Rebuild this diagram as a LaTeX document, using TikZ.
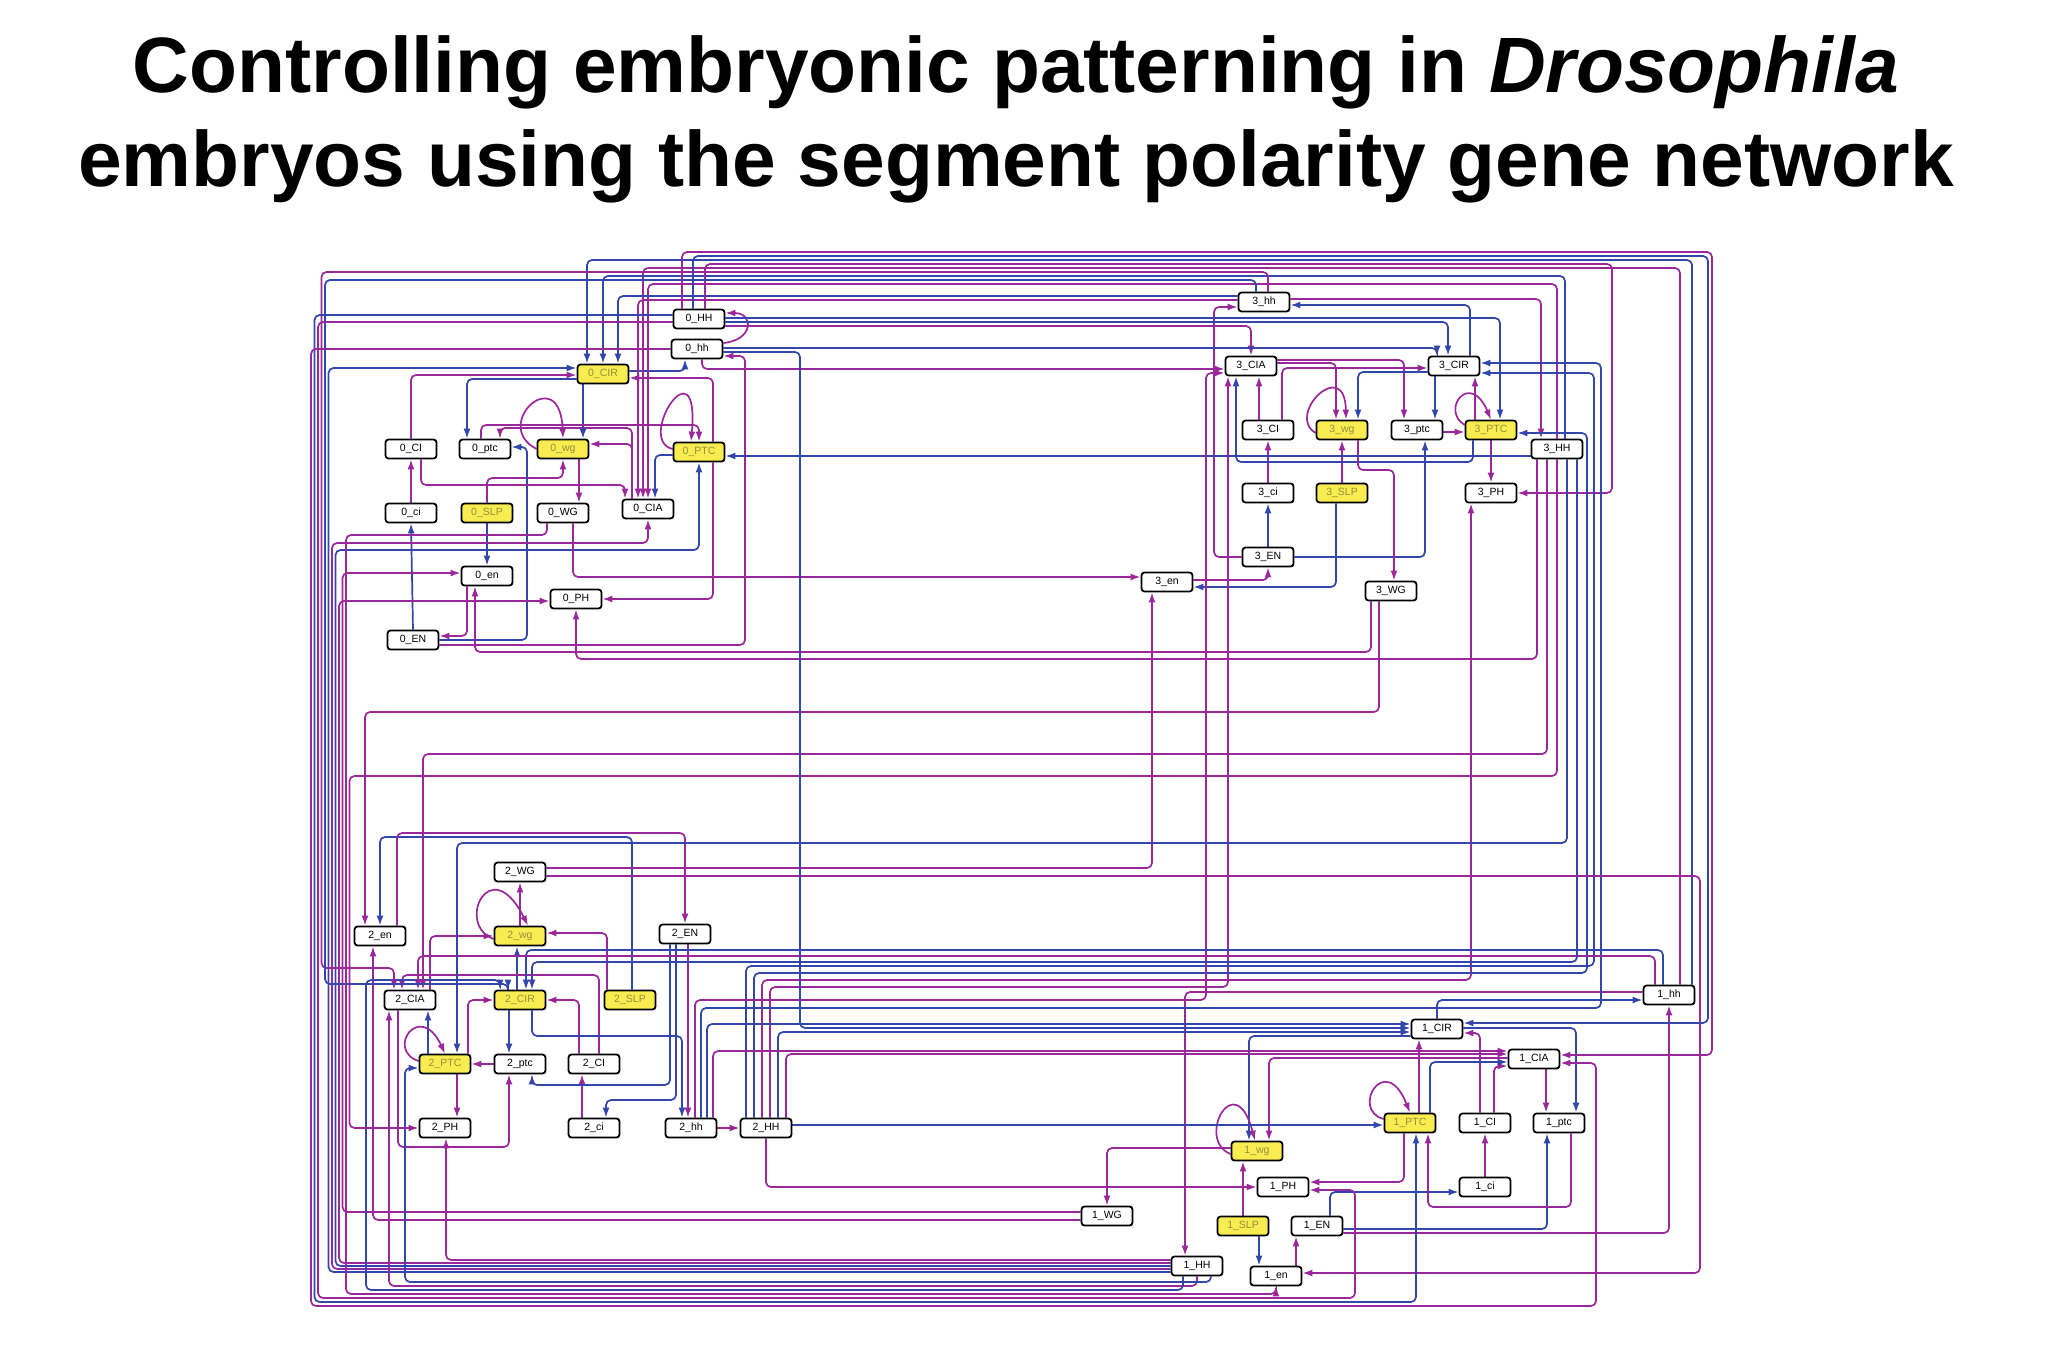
\documentclass[tikz,border=0pt]{standalone}
\usepackage{fontspec}
\setmainfont{Liberation Sans}
\usetikzlibrary{arrows.meta}
\pgfdeclarelayer{bg}
\pgfsetlayers{bg,main}
\definecolor{pur}{RGB}{155,40,155}
\definecolor{blu}{RGB}{50,70,172}
\definecolor{yel}{RGB}{248,236,80}
\definecolor{ytx}{RGB}{150,142,60}
\begin{document}
\begin{tikzpicture}[x=1pt,y=-1pt,
  gn/.style={draw=black,line width=1.8pt,rounded corners=3pt,fill=white,minimum width=51pt,minimum height=19pt,inner sep=0pt,font=\fontsize{10.5}{12}\selectfont},
  gy/.style={gn,fill=yel,text=ytx},
  pa/.style={pur,line width=1.7pt,rounded corners=5pt,-{Latex[length=10pt,width=7pt]}},
  ba/.style={blu,line width=1.7pt,rounded corners=5pt,-{Latex[length=10pt,width=7pt]}},
  ttl/.style={anchor=base,font=\fontsize{78.5}{90}\selectfont\bfseries}]
\useasboundingbox (0,0) rectangle (2052,1356);
% title
\node[ttl] (t1) at (1016,93) {Controlling embryonic patterning in \textit{Drosophila}};
\node[ttl] (t2) at (1016,187) {embryos using the segment polarity gene network};
% cell 0
\node[gn] (HH0) at (699,319) {0\_HH};
\node[gn] (hh0) at (697,349) {0\_hh};
\node[gy] (CIR0) at (603,374) {0\_CIR};
\node[gn] (CI0) at (411,449) {0\_CI};
\node[gn] (ptc0) at (485,449) {0\_ptc};
\node[gy] (wg0) at (563,449) {0\_wg};
\node[gy] (PTC0) at (699,452) {0\_PTC};
\node[gn] (CIA0) at (648,509) {0\_CIA};
\node[gn] (ci0) at (411,513) {0\_ci};
\node[gy] (SLP0) at (487,513) {0\_SLP};
\node[gn] (WG0) at (563,513) {0\_WG};
\node[gn] (en0) at (487,576) {0\_en};
\node[gn] (PH0) at (576,599) {0\_PH};
\node[gn] (EN0) at (413,640) {0\_EN};
% cell 3
\node[gn] (hh3) at (1264,302) {3\_hh};
\node[gn] (CIA3) at (1251,366) {3\_CIA};
\node[gn] (CIR3) at (1454,366) {3\_CIR};
\node[gn] (CI3) at (1268,430) {3\_CI};
\node[gy] (wg3) at (1342,430) {3\_wg};
\node[gn] (ptc3) at (1417,430) {3\_ptc};
\node[gy] (PTC3) at (1491,430) {3\_PTC};
\node[gn] (HH3) at (1557,449) {3\_HH};
\node[gn] (ci3) at (1268,493) {3\_ci};
\node[gy] (SLP3) at (1342,493) {3\_SLP};
\node[gn] (PH3) at (1491,493) {3\_PH};
\node[gn] (EN3) at (1268,557) {3\_EN};
\node[gn] (WG3) at (1391,591) {3\_WG};
\node[gn] (en3) at (1167,582) {3\_en};
% cell 2
\node[gn] (WG2) at (520,872) {2\_WG};
\node[gn] (en2) at (380,936) {2\_en};
\node[gy] (wg2) at (520,936) {2\_wg};
\node[gn] (EN2) at (685,934) {2\_EN};
\node[gn] (CIA2) at (410,1000) {2\_CIA};
\node[gy] (CIR2) at (520,1000) {2\_CIR};
\node[gy] (SLP2) at (630,1000) {2\_SLP};
\node[gy] (PTC2) at (445,1064) {2\_PTC};
\node[gn] (ptc2) at (520,1064) {2\_ptc};
\node[gn] (CI2) at (594,1064) {2\_CI};
\node[gn] (PH2) at (445,1128) {2\_PH};
\node[gn] (ci2) at (594,1128) {2\_ci};
\node[gn] (hh2) at (691,1128) {2\_hh};
\node[gn] (HH2) at (766,1128) {2\_HH};
% cell 1
\node[gn] (hh1) at (1669,995) {1\_hh};
\node[gn] (CIR1) at (1437,1029) {1\_CIR};
\node[gn] (CIA1) at (1534,1059) {1\_CIA};
\node[gy] (PTC1) at (1410,1123) {1\_PTC};
\node[gn] (CI1) at (1485,1123) {1\_CI};
\node[gn] (ptc1) at (1559,1123) {1\_ptc};
\node[gy] (wg1) at (1257,1151) {1\_wg};
\node[gn] (PH1) at (1283,1187) {1\_PH};
\node[gn] (ci1) at (1485,1187) {1\_ci};
\node[gn] (WG1) at (1107,1216) {1\_WG};
\node[gy] (SLP1) at (1243,1226) {1\_SLP};
\node[gn] (EN1) at (1317,1226) {1\_EN};
\node[gn] (HH1) at (1197,1266) {1\_HH};
\node[gn] (en1) at (1276,1276) {1\_en};

\begin{pgfonlayer}{bg}
\fill[white] (0,0) rectangle (2052,1356);
% ---------- cell 0 internal
\draw[pa] (SLP0.north) -- (487,478) -- (563,478) -- (wg0.south);
\draw[ba] (SLP0.south) -- (en0.north);
\draw[pa] ([xshift=-16pt]CIA0.north) -- (632,444) -- ([yshift=5pt]wg0.east);
\draw[pa] ([xshift=-16pt]CIA0.north) -- (632,428) -- (500,428) -- ([xshift=15pt]ptc0.north);
\draw[ba] ([xshift=-20pt]CIR0.south) -- ([xshift=20pt]wg0.north);
\draw[pa] (wg0.west) .. controls (490,425) and (560,360) .. (wg0.north);
\draw[pa] ([xshift=16pt]wg0.south) -- ([xshift=16pt]WG0.north);
\draw[pa] ([xshift=-20pt]en0.south) -- (467,636) -- ([yshift=4pt]EN0.east);
\draw[pa] ([yshift=-5pt]EN0.east) -- (745,645) -- (745,356) -- ([yshift=-7pt]hh0.east);
\draw[ba] ([yshift=3pt]CIR0.east) -- (685,371) -- ([xshift=-12pt]hh0.south);
\draw[pa] ([yshift=6pt]hh0.east) .. controls (754,340) and (754,313) .. ([yshift=6pt]HH0.east);
\draw[ba] (EN0.east) -- (527,640) -- (527,447) -- ([yshift=2pt]ptc0.east);
\draw[ba] ([yshift=-5pt]CIR0.west) -- (467,379) -- ([xshift=-18pt]ptc0.north);
\draw[pa] ([xshift=-4pt]ptc0.north) -- (481,425) -- (699,425) -- (PTC0.north);
\draw[pa] ([yshift=3pt]PTC0.west) .. controls (635,440) and (700,340) .. ([xshift=-8pt]PTC0.north);
\draw[ba] (EN0.north) -- (ci0.south);
\draw[pa] (ci0.north) -- (CI0.south);
\draw[pa] ([xshift=10pt]CI0.south) -- (421,485) -- (625,485) -- ([xshift=-23pt]CIA0.north);
\draw[ba] ([yshift=-3pt]PTC0.west) -- (655,455) -- ([xshift=7pt]CIA0.north);
\draw[pa] (CI0.north) -- (411,375) -- ([yshift=-1pt]CIR0.west);
\draw[pa] ([xshift=14pt]PTC0.north) -- (713,378) -- ([yshift=-4pt]CIR0.east);
\draw[pa] ([xshift=14pt]PTC0.south) -- (713,599) -- (PH0.east);
% ---------- cell 3 internal
\draw[pa] ([xshift=-9pt]CI3.north) -- ([xshift=8pt]CIA3.south);
\draw[pa] (ci3.north) -- (CI3.south);
\draw[ba] (EN3.north) -- (ci3.south);
\draw[pa] (SLP3.north) -- (wg3.south);
\draw[ba] ([xshift=-6pt]SLP3.south) -- (1336,587) -- ([yshift=-5pt]en3.east);
\draw[pa] ([yshift=2pt]en3.east) -- (1268,580) -- (EN3.south);
\draw[ba] (EN3.east) -- (1425,557) -- ([xshift=8pt]ptc3.south);
\draw[pa] (EN3.west) -- (1214,557) -- (1214,307) -- ([yshift=-5pt]hh3.west);
\draw[ba] ([xshift=16pt]CIR3.north) -- (1470,305) -- ([yshift=-3pt]hh3.east);
\draw[pa] ([yshift=3pt]hh3.east) -- (1541,299) -- ([xshift=-16pt]HH3.north);
\draw[pa] ([yshift=3pt]CIA3.east) -- (1336,363) -- ([xshift=-6pt]wg3.north);
\draw[pa] ([yshift=6pt]CIA3.east) -- (1404,360) -- ([xshift=-13pt]ptc3.north);
\draw[ba] ([yshift=-6pt]CIR3.west) -- (1358,372) -- ([xshift=16pt]wg3.north);
\draw[ba] ([xshift=-19pt]CIR3.south) -- ([xshift=18pt]ptc3.north);
\draw[pa] ([yshift=-3pt]wg3.west) .. controls (1285,415) and (1345,355) .. ([xshift=4pt]wg3.north);
\draw[pa] ([xshift=14pt]CI3.north) -- (1282,368) -- ([yshift=-2pt]CIR3.west);
\draw[pa] ([yshift=-2pt]ptc3.east) -- ([yshift=-2pt]PTC3.west);
\draw[pa] ([yshift=5pt]PTC3.west) .. controls (1440,410) and (1470,370) .. (PTC3.north);
\draw[pa] ([xshift=-16pt]PTC3.north) -- ([xshift=21pt]CIR3.south);
\draw[ba] ([xshift=-18pt]PTC3.south) -- (1473,462) -- (1236,462) -- ([xshift=-15pt]CIA3.south);
\draw[pa] (PTC3.south) -- (PH3.north);
\draw[pa] ([xshift=16pt]wg3.south) -- (1358,470) -- (1394,470) -- ([xshift=3pt]WG3.north);
% ---------- cell 2 internal
\draw[pa] (wg2.north) -- (WG2.south);
\draw[pa] ([yshift=-3pt]wg2.west) .. controls (455,925) and (490,850) .. ([xshift=8pt]wg2.north);
\draw[pa] ([xshift=-23pt]SLP2.north) -- (607,933) -- ([yshift=3pt]wg2.east);
\draw[ba] ([xshift=2pt]SLP2.north) -- (632,837) -- (380,837) -- (en2.north);
\draw[pa] ([xshift=17pt]en2.north) -- (397,833) -- (685,833) -- (EN2.north);
\draw[ba] ([xshift=-3pt]CIR2.north) -- ([xshift=-3pt]wg2.south);
\draw[pa] ([xshift=20pt]CIA2.north) -- (430,936) -- (wg2.west);
\draw[pa] ([xshift=-15pt]CI2.north) -- (579,1000) -- (CIR2.east);
\draw[pa] ([xshift=5pt]CI2.north) -- (599,975) -- (402,975) -- ([xshift=-8pt]CIA2.north);
\draw[pa] ([xshift=-12pt]ci2.north) -- ([xshift=-12pt]CI2.south);
\draw[ba] ([xshift=-9pt]EN2.south) -- (676,1100) -- (606,1100) -- ([xshift=12pt]ci2.north);
\draw[ba] ([xshift=-15pt]EN2.south) -- (670,1085) -- (532,1085) -- ([xshift=12pt]ptc2.south);
\draw[pa] ([xshift=3pt]EN2.south) -- ([xshift=-3pt]hh2.north);
\draw[ba] ([xshift=12pt]CIR2.south) -- (532,1036) -- (682,1036) -- ([xshift=-9pt]hh2.north);
\draw[pa] (hh2.east) -- (HH2.west);
\draw[ba] ([xshift=-11pt]CIR2.south) -- ([xshift=-11pt]ptc2.north);
\draw[pa] ([xshift=-12pt]CIA2.south) -- (398,1147) -- (509,1147) -- ([xshift=-11pt]ptc2.south);
\draw[pa] (ptc2.west) -- (PTC2.east);
\draw[pa] ([xshift=12pt]PTC2.south) -- ([xshift=12pt]PH2.north);
\draw[ba] ([xshift=-17pt]PTC2.north) -- ([xshift=18pt]CIA2.south);
\draw[pa] ([yshift=3pt]PTC2.west) .. controls (385,1050) and (420,1000) .. (PTC2.north);
\draw[pa] ([xshift=23pt]PTC2.north) -- (468,1000) -- (CIR2.west);
% ---------- cell 1 internal
\draw[pa] (SLP1.north) -- ([xshift=-14pt]wg1.south);
\draw[ba] ([xshift=16pt]SLP1.south) -- ([xshift=-17pt]en1.north);
\draw[pa] ([xshift=20pt]en1.north) -- ([xshift=-21pt]EN1.south);
\draw[ba] ([xshift=13pt]EN1.north) -- (1330,1192) -- ([yshift=-5pt]ci1.west);
\draw[ba] ([yshift=-3pt]EN1.east) -- (1547,1229) -- ([xshift=-12pt]ptc1.south);
\draw[pa] ([yshift=-7pt]EN1.east) -- (1669,1233) -- (hh1.south);
\draw[pa] (ci1.north) -- (CI1.south);
\draw[pa] ([xshift=-5pt]CI1.north) -- (1480,1033) -- ([yshift=-4pt]CIR1.east);
\draw[pa] ([xshift=9pt]CI1.north) -- (1494,1066) -- ([yshift=-7pt]CIA1.west);
\draw[ba] ([xshift=20pt]PTC1.north) -- (1430,1062) -- ([yshift=-3pt]CIA1.west);
\draw[pa] ([xshift=9pt]PTC1.north) -- ([xshift=-18pt]CIR1.south);
\draw[pa] ([yshift=4pt]PTC1.west) .. controls (1350,1110) and (1385,1050) .. (PTC1.north);
\draw[pa] ([xshift=-6pt]PTC1.south) -- (1404,1182) -- ([yshift=5pt]PH1.east);
\draw[pa] ([xshift=12pt]ptc1.south) -- (1571,1207) -- (1428,1207) -- ([xshift=18pt]PTC1.south);
\draw[pa] ([xshift=12pt]CIA1.south) -- ([xshift=-13pt]ptc1.north);
\draw[ba] ([yshift=1pt]CIR1.east) -- (1576,1028) -- ([xshift=17pt]ptc1.north);
\draw[ba] ([yshift=-7pt]CIR1.west) -- (1249,1036) -- ([xshift=-8pt]wg1.north);
\draw[pa] ([yshift=1pt]CIA1.west) -- (1269,1058) -- ([xshift=12pt]wg1.north);
\draw[pa] ([yshift=-3pt]wg1.west) .. controls (1195,1140) and (1235,1065) .. ([xshift=-2pt]wg1.north);
\draw[pa] ([yshift=3pt]wg1.west) -- (1107,1148) -- (WG1.north);
\draw[ba] (CIR1.north) -- (1437,1000) -- ([yshift=-5pt]hh1.west);
\draw[pa] ([yshift=3pt]hh1.west) -- (1185,992) -- ([xshift=-12pt]HH1.north);
% ---------- into cell 0
\draw[pa] ([yshift=4pt]WG1.west) -- (342.5,1212) -- (342.5,573) -- ([yshift=3pt]en0.west);
\draw[pa] ([xshift=-20pt]WG3.south) -- (1371,652) -- (475,652) -- ([xshift=-12pt]en0.south);
\draw[pa] ([yshift=3pt]HH1.west) -- (339,1263) -- (339,601) -- ([yshift=-2pt]PH0.west);
\draw[ba] (HH1.west) -- (335.5,1266) -- (335.5,550) -- (699,550) -- (PTC0.south);
\draw[pa] ([yshift=-3pt]HH1.west) -- (332,1269) -- (332,543) -- (648,543) -- (CIA0.south);
\draw[ba] ([yshift=-6pt]HH1.west) -- (328.5,1272) -- (328.5,368) -- ([yshift=6pt]CIR0.west);
\draw[ba] ([xshift=23pt]hh1.north) -- (1692,260) -- (587,260) -- ([xshift=-16pt]CIR0.north);
\draw[pa] ([xshift=11pt]hh1.north) -- (1680,268) -- (643,268) -- ([xshift=-5pt]CIA0.north);
\draw[pa] (HH3.north) -- (1557,284) -- (648,284) -- (CIA0.north);
\draw[ba] ([xshift=8pt]HH3.north) -- (1565,276) -- (603,276) -- (CIR0.north);
\draw[ba] ([yshift=-7pt]HH3.west) -- ([yshift=-4pt]PTC0.east);
\draw[pa] ([xshift=-20pt]HH3.south) -- (1537,659) -- (576,659) -- (PH0.south);
\draw[ba] ([yshift=6pt]hh3.west) -- (618,296) -- ([xshift=15pt]CIR0.north);
\draw[pa] ([yshift=2pt]hh3.west) -- (638,300) -- ([xshift=-10pt]CIA0.north);
% ---------- into cell 3
\draw[pa] ([xshift=10pt]WG0.south) -- (573,577) -- ([yshift=5pt]en3.west);
\draw[pa] ([yshift=4pt]WG2.east) -- (1152,868) -- ([xshift=-15pt]en3.south);
\draw[ba] ([yshift=1pt]HH0.east) -- (1500,318) -- ([xshift=9pt]PTC3.north);
\draw[ba] ([yshift=-3pt]HH0.east) -- (1448,322) -- ([xshift=-6pt]CIR3.north);
\draw[pa] ([yshift=-7pt]HH0.east) -- (1251,326) -- (CIA3.north);
\draw[pa] ([xshift=6pt]HH0.north) -- (705,264) -- (1612,264) -- (1612,493) -- (PH3.east);
\draw[pa] ([xshift=5pt]hh0.south) -- (702,369) -- ([yshift=-3pt]CIA3.west);
\draw[ba] ([yshift=1pt]hh0.east) -- (1437,348) -- ([xshift=-17pt]CIR3.north);
\draw[pa] ([xshift=4pt]HH2.north) -- (770,987) -- (1228,987) -- ([xshift=-23pt]CIA3.south);
\draw[pa] ([xshift=-4pt]HH2.north) -- (762,980) -- (1471,980) -- ([xshift=-20pt]PH3.south);
\draw[ba] ([xshift=-20pt]HH2.north) -- (746,966) -- (1594,966) -- (1594,373) -- ([yshift=-7pt]CIR3.east);
\draw[ba] ([xshift=-12pt]HH2.north) -- (754,973) -- (1587,973) -- (1587,433) -- ([yshift=-3pt]PTC3.east);
\draw[pa] ([xshift=4pt]hh2.north) -- (695,1000) -- (1206,1000) -- (1206,373) -- ([yshift=-7pt]CIA3.west);
\draw[ba] ([xshift=10pt]hh2.north) -- (701,1008) -- (1601,1008) -- (1601,363) -- ([yshift=3pt]CIR3.east);
% ---------- into cell 2
\draw[pa] ([yshift=-4pt]WG1.west) -- (373,1220) -- ([xshift=-7pt]en2.south);
\draw[pa] ([xshift=-12pt]WG3.south) -- (1379,712) -- (365,712) -- ([xshift=-15pt]en2.north);
\draw[pa] ([yshift=6pt]HH1.west) -- (446,1260) -- ([xshift=1pt]PH2.south);
\draw[pa] (HH1.south) -- (1197,1286) -- (389,1286) -- ([xshift=-21pt]CIA2.south);
\draw[ba] ([xshift=-14pt]HH1.south) -- (1183,1290) -- (366,1290) -- (366,980) -- (500,980) -- ([xshift=-20pt]CIR2.north);
\draw[ba] ([xshift=14pt]HH1.south) -- (1211,1282) -- (405,1282) -- (405,1068) -- ([yshift=-4pt]PTC2.west);
\draw[ba] ([xshift=-6pt]hh1.north) -- (1663,950) -- (526,950) -- ([xshift=6pt]CIR2.north);
\draw[pa] ([xshift=-14pt]hh1.north) -- (1655,956) -- (418,956) -- ([xshift=8pt]CIA2.north);
\draw[pa] ([xshift=-10pt]HH3.south) -- (1547,754) -- (423,754) -- ([xshift=13pt]CIA2.north);
\draw[pa] (HH3.south) -- (1557,776) -- (349.5,776) -- (349.5,1128) -- (PH2.west);
\draw[ba] ([xshift=10pt]HH3.south) -- (1567,843) -- (457,843) -- ([xshift=12pt]PTC2.north);
\draw[ba] ([xshift=20pt]HH3.south) -- (1577,962) -- (532,962) -- ([xshift=12pt]CIR2.north);
\draw[pa] ([xshift=4pt]hh3.north) -- (1268,272) -- (321.5,272) -- (321.5,968) -- (394,968) -- ([xshift=-16pt]CIA2.north);
\draw[ba] ([xshift=-8pt]hh3.north) -- (1256,280) -- (325,280) -- (325,984) -- (508,984) -- ([xshift=-12pt]CIR2.north);
% ---------- into cell 1
\draw[pa] ([xshift=-16pt]WG0.south) -- (547,535) -- (346,535) -- (346,1294) -- (1276,1294) -- (en1.south);
\draw[pa] ([yshift=-4pt]WG2.east) -- (1700,876) -- (1700,1273) -- ([yshift=3pt]en1.east);
\draw[pa] ([xshift=-17pt]HH0.north) -- (682,252) -- (1712,252) -- (1712,1055) -- ([yshift=4pt]CIA1.east);
\draw[ba] ([xshift=-6pt]HH0.north) -- (693,256) -- (1708,256) -- (1708,1023) -- ([yshift=6pt]CIR1.east);
\draw[ba] ([yshift=4pt]HH0.west) -- (314.5,315) -- (314.5,1302) -- (1416,1302) -- ([xshift=6pt]PTC1.south);
\draw[pa] ([yshift=-3pt]HH0.west) -- (318,322) -- (318,1298) -- (1355,1298) -- (1355,1190) -- ([yshift=-3pt]PH1.east);
\draw[pa] (hh0.west) -- (311,349) -- (311,1306) -- (1596,1306) -- (1596,1063) -- ([yshift=-4pt]CIA1.east);
\draw[ba] ([yshift=-3pt]hh0.east) -- (800,352) -- (800,1028) -- ([yshift=1pt]CIR1.west);
\draw[pa] ([xshift=20pt]HH2.north) -- (786,1054) -- ([yshift=5pt]CIA1.west);
\draw[ba] ([xshift=12pt]HH2.north) -- (778,1032) -- ([yshift=-3pt]CIR1.west);
\draw[ba] ([yshift=3pt]HH2.east) -- ([yshift=-2pt]PTC1.west);
\draw[pa] (HH2.south) -- (766,1187) -- (PH1.west);
\draw[pa] ([xshift=22pt]hh2.north) -- (713,1051) -- ([yshift=8pt]CIA1.west);
\draw[ba] ([xshift=16pt]hh2.north) -- (707,1024) -- ([yshift=5pt]CIR1.west);
\end{pgfonlayer}
\end{tikzpicture}
\end{document}
